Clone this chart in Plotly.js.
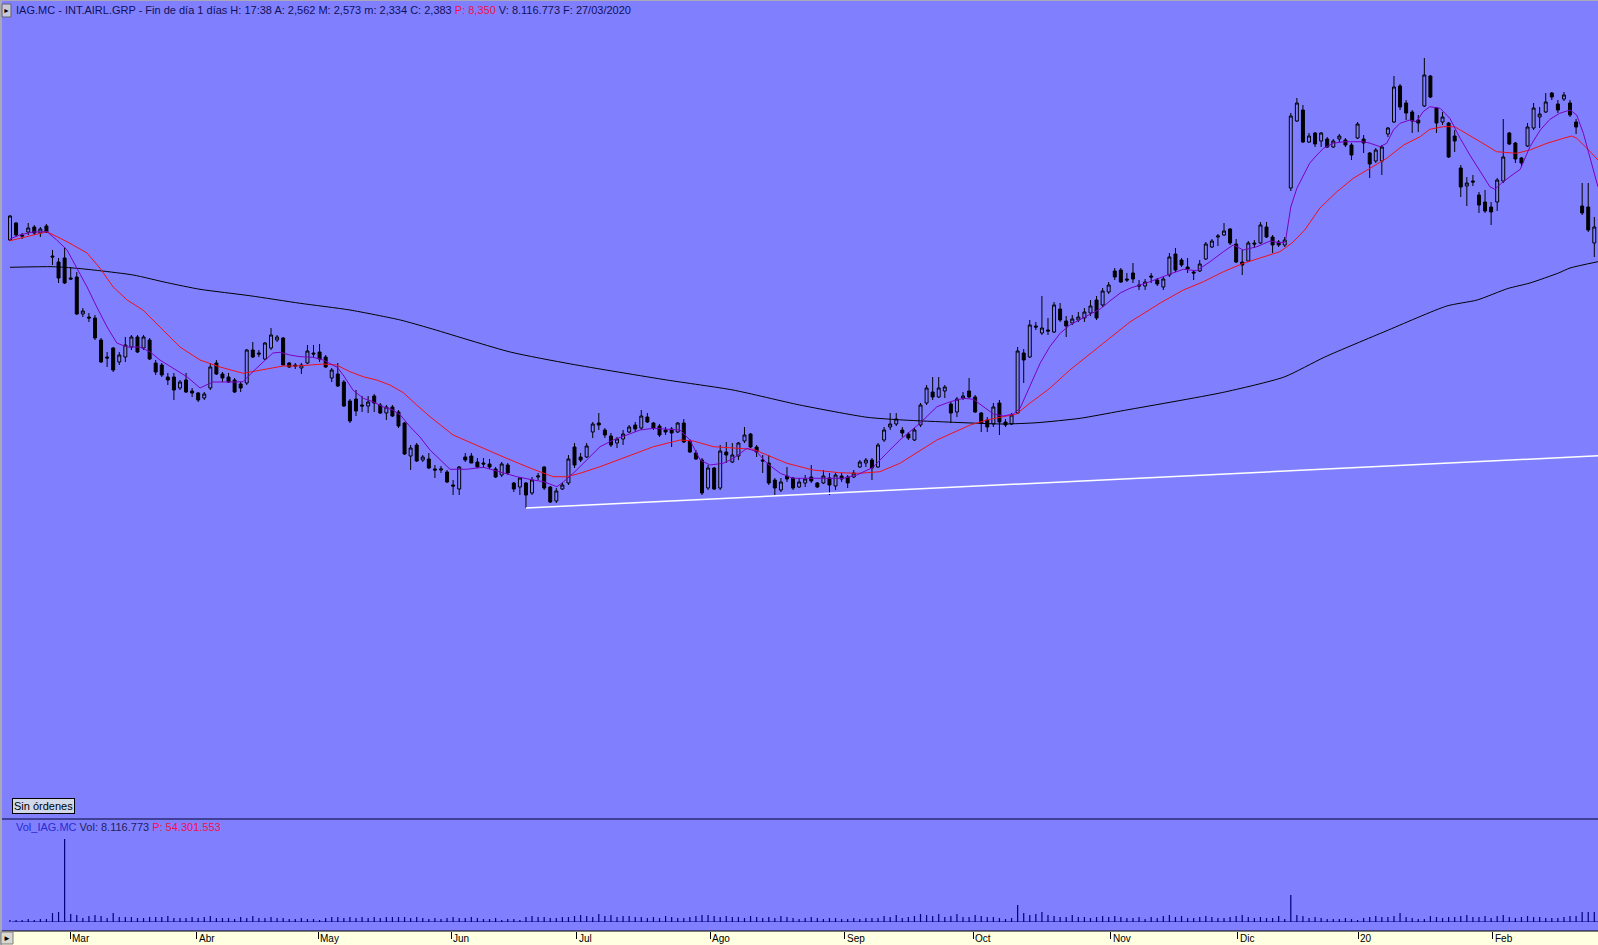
<!DOCTYPE html>
<html><head><meta charset="utf-8">
<script src="https://cdn.plot.ly/plotly-3.0.1.min.js"></script>
<style>html,body{margin:0;padding:0;background:#8080ff;overflow:hidden}#chart{width:1598px;height:945px}</style>
</head><body><div id="chart"></div>
<script>
// ---- Daily OHLC (IAG.MC), one value per trading session, chart order ----
const open = [
6.320,6.439,6.355,6.376,6.411,6.369,6.418,6.208,6.166,6.194,
6.054,6.061,5.802,5.781,5.774,5.620,5.501,5.564,5.466,5.501,
5.571,5.641,5.564,5.620,5.459,5.445,5.361,5.361,5.284,5.340,
5.263,5.249,5.214,5.284,5.459,5.382,5.361,5.340,5.312,5.319,
5.550,5.529,5.487,5.564,5.620,5.634,5.459,5.445,5.424,5.459,
5.529,5.536,5.501,5.354,5.382,5.326,5.193,5.207,5.165,5.158,
5.228,5.165,5.109,5.151,5.116,5.039,4.808,4.885,4.780,4.787,
4.717,4.710,4.696,4.605,4.577,4.801,4.808,4.766,4.759,4.752,
4.717,4.675,4.745,4.619,4.591,4.619,4.549,4.661,4.731,4.591,
4.493,4.577,4.619,4.871,4.801,4.801,4.976,5.039,4.990,4.948,
4.899,4.927,4.976,5.025,5.004,5.081,5.039,5.018,4.990,4.997,
4.976,5.039,4.913,4.829,4.780,4.584,4.724,4.584,4.836,4.766,
4.808,4.913,4.962,4.871,4.780,4.759,4.640,4.570,4.668,4.654,
4.591,4.619,4.661,4.619,4.619,4.654,4.598,4.668,4.661,4.661,
4.731,4.759,4.780,4.731,4.920,5.011,5.032,4.990,4.962,4.920,
5.025,5.179,5.256,5.221,5.263,5.172,5.116,5.214,5.263,5.221,
5.109,5.060,5.032,5.179,5.046,5.032,5.109,5.529,5.501,5.718,
5.669,5.690,5.676,5.837,5.753,5.739,5.760,5.774,5.809,5.900,
5.865,5.956,6.103,6.110,6.047,6.089,6.005,5.998,6.068,6.040,
5.991,6.075,6.222,6.180,6.131,6.096,6.103,6.187,6.271,6.341,
6.355,6.397,6.292,6.166,6.173,6.299,6.299,6.411,6.341,6.306,
6.285,6.684,7.153,7.230,7.006,7.069,7.013,7.027,6.971,7.027,
7.020,6.985,7.034,7.027,6.929,6.873,6.873,7.062,7.146,7.398,
7.279,7.216,7.160,7.258,7.468,7.244,7.146,7.139,7.048,6.824,
6.698,6.733,6.635,6.586,6.551,6.586,6.733,7.069,6.999,6.894,
6.978,7.104,7.181,7.216,7.349,7.272,7.307,7.279,7.146,6.558,
6.551,6.299,6.320];
const high = [
6.495,6.446,6.369,6.439,6.425,6.411,6.432,6.250,6.194,6.271,
6.131,6.096,5.844,5.809,5.795,5.634,5.536,5.571,5.536,5.641,
5.655,5.655,5.655,5.634,5.480,5.459,5.389,5.389,5.340,5.389,
5.284,5.256,5.256,5.459,5.480,5.396,5.389,5.354,5.326,5.557,
5.606,5.550,5.606,5.704,5.655,5.641,5.466,5.459,5.459,5.585,
5.585,5.592,5.515,5.424,5.459,5.340,5.207,5.270,5.228,5.228,
5.242,5.179,5.165,5.165,5.130,5.046,4.885,4.899,4.815,4.829,
4.745,4.738,4.710,4.640,4.738,4.829,4.829,4.794,4.794,4.787,
4.731,4.766,4.759,4.626,4.661,4.626,4.661,4.689,4.738,4.598,
4.584,4.619,4.815,4.899,4.829,4.899,5.046,5.109,5.004,4.969,
4.941,4.990,5.025,5.046,5.130,5.109,5.046,5.032,5.011,5.011,
5.046,5.067,4.927,4.850,4.794,4.745,4.731,4.885,4.906,4.899,
4.906,5.011,4.969,4.885,4.815,4.815,4.654,4.654,4.731,4.661,
4.654,4.675,4.745,4.626,4.710,4.689,4.689,4.689,4.675,4.710,
4.780,4.794,4.794,4.899,5.011,5.109,5.109,5.011,4.976,5.004,
5.179,5.305,5.361,5.361,5.305,5.186,5.221,5.256,5.354,5.235,
5.116,5.081,5.179,5.200,5.067,5.109,5.571,5.557,5.760,5.746,
5.928,5.774,5.886,5.879,5.788,5.795,5.816,5.844,5.900,5.928,
5.984,6.026,6.124,6.124,6.089,6.159,6.040,6.047,6.089,6.054,
6.061,6.229,6.264,6.194,6.194,6.110,6.180,6.306,6.327,6.362,
6.439,6.404,6.327,6.250,6.313,6.320,6.446,6.446,6.355,6.320,
6.341,7.209,7.314,7.265,7.069,7.076,7.076,7.041,7.027,7.062,
7.034,6.999,7.146,7.055,6.936,6.964,6.985,7.111,7.468,7.412,
7.300,7.230,7.195,7.594,7.475,7.251,7.216,7.146,7.090,6.845,
6.761,6.775,6.656,6.670,6.586,6.754,7.167,7.076,7.006,6.901,
7.139,7.279,7.251,7.349,7.356,7.300,7.356,7.300,7.167,6.719,
6.719,6.481,6.355];
const low = [
6.313,6.341,6.327,6.355,6.355,6.341,6.369,6.145,6.019,6.012,
6.040,5.795,5.781,5.746,5.620,5.459,5.431,5.396,5.445,5.466,
5.550,5.529,5.550,5.480,5.375,5.361,5.305,5.200,5.270,5.249,
5.221,5.186,5.200,5.270,5.375,5.326,5.319,5.249,5.256,5.305,
5.494,5.501,5.480,5.550,5.606,5.445,5.424,5.417,5.382,5.452,
5.494,5.466,5.424,5.326,5.291,5.151,5.039,5.088,5.116,5.109,
5.116,5.102,5.060,5.081,5.004,4.815,4.710,4.766,4.766,4.717,
4.654,4.689,4.619,4.535,4.535,4.766,4.759,4.724,4.724,4.717,
4.654,4.661,4.675,4.556,4.535,4.444,4.535,4.640,4.570,4.479,
4.479,4.570,4.605,4.724,4.766,4.794,4.934,4.990,4.934,4.871,
4.864,4.885,4.969,4.976,4.990,5.039,4.990,4.941,4.955,4.871,
4.969,4.899,4.829,4.780,4.535,4.570,4.570,4.570,4.759,4.759,
4.780,4.899,4.864,4.801,4.689,4.605,4.535,4.556,4.626,4.570,
4.584,4.591,4.619,4.584,4.612,4.535,4.570,4.626,4.584,4.654,
4.724,4.731,4.640,4.724,4.906,4.990,5.018,4.941,4.920,4.913,
5.011,5.165,5.200,5.214,5.214,5.039,5.081,5.200,5.214,5.109,
4.976,4.976,5.011,4.955,5.011,5.025,5.102,5.319,5.494,5.690,
5.655,5.655,5.669,5.746,5.641,5.725,5.746,5.746,5.788,5.760,
5.851,5.942,6.040,6.019,6.026,6.019,5.970,5.970,6.019,5.998,
5.970,6.061,6.096,6.131,6.089,6.040,6.096,6.180,6.264,6.278,
6.348,6.285,6.159,6.075,6.166,6.264,6.292,6.334,6.229,6.271,
6.271,6.663,7.146,6.999,6.999,6.971,6.971,6.964,6.964,7.006,
6.971,6.880,7.027,6.929,6.754,6.859,6.775,7.041,7.139,7.230,
7.160,7.069,7.076,7.251,7.314,7.069,7.125,6.894,6.936,6.621,
6.558,6.698,6.509,6.509,6.425,6.523,6.719,6.985,6.859,6.831,
6.971,7.090,7.104,7.209,7.300,7.209,7.293,7.181,7.062,6.495,
6.376,6.201,5.914];
const close = [
6.488,6.355,6.348,6.404,6.369,6.397,6.376,6.201,6.054,6.019,
6.047,5.802,5.823,5.774,5.634,5.466,5.494,5.410,5.515,5.585,
5.641,5.536,5.641,5.487,5.396,5.375,5.340,5.270,5.326,5.256,
5.249,5.200,5.242,5.431,5.382,5.354,5.326,5.256,5.284,5.550,
5.501,5.522,5.599,5.655,5.641,5.445,5.431,5.438,5.445,5.543,
5.522,5.487,5.431,5.410,5.298,5.158,5.053,5.123,5.158,5.186,
5.179,5.109,5.151,5.088,5.018,4.822,4.864,4.773,4.801,4.724,
4.710,4.717,4.626,4.598,4.731,4.780,4.759,4.731,4.752,4.731,
4.661,4.752,4.689,4.577,4.654,4.535,4.640,4.668,4.584,4.486,
4.563,4.605,4.787,4.745,4.780,4.878,5.032,5.025,4.955,4.885,
4.927,4.962,5.011,4.997,5.088,5.046,5.004,4.955,4.976,4.969,
5.039,4.906,4.836,4.787,4.549,4.724,4.577,4.843,4.815,4.815,
4.899,4.955,4.871,4.836,4.773,4.619,4.584,4.626,4.647,4.584,
4.626,4.647,4.633,4.591,4.668,4.605,4.675,4.647,4.619,4.689,
4.766,4.780,4.724,4.885,4.990,5.032,5.067,4.969,4.934,4.990,
5.165,5.284,5.221,5.284,5.291,5.109,5.207,5.228,5.221,5.116,
5.039,5.011,5.151,5.046,5.025,5.095,5.543,5.480,5.725,5.711,
5.704,5.683,5.865,5.760,5.718,5.767,5.781,5.816,5.858,5.774,
5.963,6.005,6.061,6.026,6.040,6.047,5.998,6.026,6.061,6.012,
6.047,6.201,6.110,6.145,6.117,6.089,6.152,6.292,6.313,6.348,
6.383,6.299,6.166,6.145,6.299,6.292,6.425,6.341,6.285,6.285,
6.320,7.188,7.279,7.006,7.048,6.992,7.069,6.971,7.013,7.048,
6.985,6.915,7.132,6.999,6.852,6.950,6.971,7.104,7.391,7.251,
7.209,7.153,7.139,7.475,7.321,7.139,7.181,6.901,7.013,6.691,
6.719,6.726,6.565,6.523,6.516,6.740,6.901,6.992,6.887,6.859,
7.111,7.244,7.202,7.286,7.321,7.230,7.335,7.195,7.111,6.509,
6.390,6.411,6.110];
// Volume (millions of shares)
const volume = [
2,2,2,3,2,3,3,9,10,83, 8,7,4,6,7,6,4,9,5,5, 5,4,4,5,5,5,6,4,4,4,
5,4,5,6,4,4,4,3,5,4, 6,4,4,5,4,4,3,3,4,3, 3,2,4,5,5,4,5,4,5,4,
5,4,5,5,5,5,4,5,4,3, 4,3,4,5,4,4,5,4,3,3, 4,2,3,3,2,5,6,5,5,4,
4,5,5,6,7,6,5,8,6,7, 5,6,6,5,5,4,5,4,6,5, 4,4,5,6,7,7,6,5,6,5,
5,4,6,5,4,5,4,6,5,4, 3,4,5,4,3,4,4,3,3,4, 3,4,4,4,6,5,7,4,5,6,
8,7,6,8,5,6,8,5,5,7, 6,5,5,4,3,4,17,9,7,8, 10,7,6,5,5,7,5,5,4,5,
6,5,6,5,4,4,5,3,5,4, 6,7,5,6,4,4,5,6,5,4, 4,5,6,7,5,4,5,4,4,6,
3,27,7,6,4,5,4,3,3,3, 4,3,2,4,5,6,5,5,6,9, 5,4,3,3,6,5,4,5,5,6,
7,5,5,6,4,6,7,5,4,5, 6,5,5,4,4,4,5,6,6,10, 10,10,9];

// Short moving average (purple): session position / price
const maFastX = [0,1.6,3.8,6.1,7.7,9.4,11.0,12.7,14.3,16.0,17.6,19.3,21.4,23.1,24.7,26.9,29.2,31.3,33.4,36.7,
38.4,40.0,41.7,43.3,44.5,46.1,47.8,49.9,51.6,52.7,53.9,54.9,56.5,58.2,59.8,61.4,63.1,64.3,65.9,67.5,
69.2,72.5,75.2,78.0,80.7,83.5,86.2,87.9,90.1,91.2,92.8,95.0,97.2,99.4,101.6,103.8,106.0,108.2,110.4,112.0,
113.7,115.3,117.5,119.2,121.4,123.0,124.7,126.9,129.0,131.8,134.5,137.3,139.5,142.2,144.4,146.6,149.9,152.7,154.9,157.1,
158.7,160.3,162.0,163.6,165.3,166.4,168.0,169.7,171.3,173.0,174.6,176.3,177.9,179.6,181.2,182.9,184.5,187.8,191.1,193.3,
195.5,197.7,199.9,201.5,203.2,205.4,207.6,209.2,210.1,211.0,212.0,213.0,214.1,215.3,216.4,218.0,219.7,221.3,223.0,224.1,
225.7,226.8,227.9,229.0,230.6,231.7,232.8,233.9,235.6,237.2,238.9,240.5,242.2,243.8,244.6,245.7,247.1,248.8,250.4,252.1,
253.7,255.3,257.0,258.1,259.2,260.3,261.6];
const maFastY = [6.327,6.355,6.376,6.378,6.320,6.250,6.124,5.991,5.851,5.711,5.599,5.571,5.571,5.536,5.480,5.424,5.361,5.284,5.326,5.326,
5.328,5.398,5.468,5.529,5.534,5.515,5.503,5.499,5.480,5.457,5.429,5.375,5.270,5.212,5.188,5.153,5.130,5.095,5.013,4.943,
4.850,4.715,4.715,4.729,4.698,4.663,4.640,4.628,4.593,4.628,4.687,4.780,4.873,4.920,4.955,4.990,5.002,4.995,4.990,4.920,
4.780,4.745,4.757,4.792,4.862,4.838,4.757,4.687,4.652,4.652,4.652,4.652,4.675,4.729,4.827,4.920,5.037,5.153,5.188,5.212,
5.205,5.153,5.102,5.088,5.102,5.142,5.293,5.457,5.573,5.667,5.725,5.765,5.802,5.837,5.893,5.949,5.982,6.028,6.082,6.115,
6.105,6.168,6.238,6.285,6.250,6.273,6.313,6.301,6.306,6.551,6.682,6.763,6.857,6.915,6.962,6.997,7.008,7.008,7.008,6.997,
6.973,6.997,7.090,7.137,7.160,7.148,7.218,7.253,7.242,7.172,7.032,6.915,6.798,6.693,6.675,6.717,6.763,6.815,6.973,7.090,
7.165,7.207,7.230,7.195,7.067,6.903,6.693];
// Medium moving average (red)
const maMidX = [0,6.1,9.4,12.7,14.8,17.0,19.3,21.9,24.7,28.0,31.3,34.6,38.4,40.6,42.8,45.0,47.2,49.4,51.6,53.8,
56.0,58.2,60.4,62.6,64.8,67.0,69.2,73.0,77.4,81.8,86.2,89.5,91.7,93.9,97.2,101.6,106.0,110.4,112.6,115.9,
119.2,122.5,124.7,128.0,132.3,136.7,140.0,143.3,146.6,152.7,158.2,160.9,163.6,165.8,168.0,171.3,174.6,176.3,179.6,184.5,
189.5,193.3,196.6,199.9,203.2,206.5,209.2,211.2,213.3,215.8,218.6,221.3,224.1,226.8,229.6,232.3,233.9,236.1,238.0,239.9,
242.2,244.9,248.2,250.4,253.2,255.9,257.3,258.1,259.8,261.6];
const maMidY = [6.315,6.378,6.308,6.229,6.124,5.991,5.900,5.830,5.711,5.571,5.480,5.431,5.387,5.405,5.422,5.438,5.438,5.445,5.452,5.445,
5.398,5.363,5.340,5.305,5.251,5.165,5.083,4.955,4.873,4.792,4.715,4.663,4.663,4.687,4.733,4.803,4.873,4.920,4.913,4.873,
4.862,4.855,4.815,4.757,4.710,4.691,4.687,4.698,4.757,4.920,5.025,5.060,5.083,5.102,5.177,5.282,5.410,5.468,5.585,5.746,
5.879,5.970,6.028,6.098,6.157,6.203,6.238,6.299,6.390,6.544,6.658,6.752,6.822,6.892,6.985,7.043,7.095,7.113,7.113,7.067,
7.008,6.938,6.927,6.950,6.997,7.032,7.048,7.032,6.962,6.880];
// Long moving average (black)
const maLongX = [0,7.1,11.0,14.8,20.3,25.9,31.3,39.5,47.8,56.0,64.3,69.2,82.4,92.4,108.2,119.1,130.1,141.2,147.1,155.4,
163.6,169.2,176.3,183.0,199.8,209.9,216.6,226.7,236.7,241.7,246.8,250.4,255.1,257.0,261.6];
const maLongY = [6.129,6.133,6.122,6.105,6.075,6.021,5.975,5.930,5.877,5.830,5.760,5.702,5.536,5.452,5.340,5.270,5.165,5.079,5.060,5.044,
5.032,5.041,5.072,5.123,5.253,5.361,5.501,5.683,5.858,5.900,5.981,6.019,6.089,6.124,6.168];
// Support trend line (white)
const trendX = [85, 263];
const trendY = [4.444, 4.812];

// Month labels and their boundary positions on the session axis
const monthLabels = ['Mar','Abr','May','Jun','Jul','Ago','Sep','Oct','Nov','Dic','20','Feb'];
const monthPos = [9.9,30.8,50.8,72.7,93.4,115.4,137.5,158.7,181.3,202.3,222.1,244.3];

const headerText = 'IAG.MC - INT.AIRL.GRP - Fin de día 1 días H: 17:38 A: 2,562 M: 2,573 m: 2,334 C: 2,383 ' +
  '<span style="color:#f0104a">P: 8,350</span> V: 8.116.773 F: 27/03/2020';
const volText = '<span style="color:#2a2ad0">Vol_IAG.MC</span> Vol: 8.116.773 <span style="color:#f0104a">P: 54.301.553</span>';

// ---- drawing ----
const W = 1598, H = 945;
const px = x => x / W, py = y => 1 - y / H;
const idx = open.map((_, i) => i);
const FONT = 'Liberation Sans, Arial, sans-serif';

const traces = [
  {type:'bar', x: idx, y: volume, xaxis:'x', yaxis:'y2', width:0.2,
   marker:{color:'#000080', line:{width:0}}, hoverinfo:'skip', showlegend:false},
  {type:'scatter', mode:'lines', x: maLongX, y: maLongY, line:{color:'#000000', width:1, shape:'spline', smoothing:0.6},
   hoverinfo:'skip', showlegend:false},
  {type:'scatter', mode:'lines', x: trendX, y: trendY, line:{color:'#ffffff', width:1.5},
   hoverinfo:'skip', showlegend:false},
  {type:'candlestick', x: idx, open: open, high: high, low: low, close: close,
   increasing:{line:{color:'#000000', width:1}, fillcolor:'rgba(0,0,0,0)'},
   decreasing:{line:{color:'#000000', width:1}, fillcolor:'#000000'},
   whiskerwidth:0, hoverinfo:'skip', showlegend:false},
  {type:'scatter', mode:'lines', x: maMidX, y: maMidY, line:{color:'#f01018', width:1},
   hoverinfo:'skip', showlegend:false},
  {type:'scatter', mode:'lines', x: maFastX, y: maFastY, line:{color:'#7a00c0', width:1},
   hoverinfo:'skip', showlegend:false}
];

const annotations = [
  {xref:'paper', yref:'paper', x:px(14), y:py(10.5), xanchor:'left', yanchor:'middle', showarrow:false,
   text: headerText, font:{family:FONT, size:11, color:'#10105a'}},
  {xref:'paper', yref:'paper', x:px(14), y:py(827), xanchor:'left', yanchor:'middle', showarrow:false,
   text: volText, font:{family:FONT, size:11, color:'#202060'}},
  {xref:'paper', yref:'paper', x:px(12), y:py(797.5), xanchor:'left', yanchor:'top', showarrow:false,
   text:'Sin órdenes', font:{family:FONT, size:11, color:'#000000'},
   bgcolor:'#d0d8ea', bordercolor:'#000000', borderwidth:1, borderpad:1},
  {xref:'paper', yref:'paper', x:px(6), y:py(10.5), xanchor:'center', yanchor:'middle', showarrow:false,
   text:'►', font:{family:FONT, size:7, color:'#000000'}},
  {xref:'paper', yref:'paper', x:px(7), y:py(938.5), xanchor:'center', yanchor:'middle', showarrow:false,
   text:'►', font:{family:FONT, size:8, color:'#000000'}}
];
monthLabels.forEach((m, k) => annotations.push({
  xref:'x', yref:'paper', x: monthPos[k], y: py(945), xanchor:'left', yanchor:'bottom', xshift:1,
  borderpad:0, showarrow:false, text: m, font:{family:FONT, size:10, color:'#000000'}
}));

const shapes = [
  {type:'rect', xref:'paper', yref:'paper', x0:0, x1:1, y0:0, y1:py(931), fillcolor:'#ffffe1', line:{width:0}, layer:'below'},
  {type:'line', xref:'paper', yref:'paper', x0:0, x1:1, y0:py(931), y1:py(931), line:{color:'#000000', width:1}},
  {type:'line', xref:'paper', yref:'paper', x0:0, x1:1, y0:py(819), y1:py(819), line:{color:'#000030', width:1}},
  {type:'line', xref:'paper', yref:'y2', x0:px(12), x1:1, y0:0, y1:0, line:{color:'#000080', width:1}},
  {type:'rect', xref:'paper', yref:'paper', x0:0, x1:px(2), y0:0, y1:1, fillcolor:'#a8a8b8', line:{width:0}},
  {type:'line', xref:'paper', yref:'paper', x0:0, x1:1, y0:py(0.5), y1:py(0.5), line:{color:'#a8a8b8', width:1}},
  {type:'rect', xref:'paper', yref:'paper', x0:px(2), x1:px(11), y0:py(17), y1:py(4), fillcolor:'#c8c8d8', line:{color:'#606070', width:1}},
  {type:'rect', xref:'paper', yref:'paper', x0:px(1), x1:px(13), y0:py(944), y1:py(932), fillcolor:'#d8d8d0', line:{color:'#808080', width:1}}
];

const layout = {
  width: W, height: H, margin:{l:0, r:0, t:0, b:0, pad:0},
  paper_bgcolor:'#8080ff', plot_bgcolor:'rgba(0,0,0,0)',
  showlegend:false, boxgap:0.3,
  xaxis:{range:[-1.648, 261.61], showgrid:false, zeroline:false, showline:false,
         rangeslider:{visible:false}, anchor:'free', position: py(931),
         tickmode:'array', tickvals: monthPos, ticks:'outside', ticklen:7, tickwidth:1, tickcolor:'#000000',
         showticklabels:false, fixedrange:true},
  yaxis:{domain:[py(816), py(20)], range:[2.288, 7.86], showgrid:false, zeroline:false, showline:false,
         showticklabels:false, ticks:'', fixedrange:true},
  yaxis2:{domain:[py(922), py(826)], range:[0, 96], showgrid:false, zeroline:false, showline:false,
          showticklabels:false, ticks:'', fixedrange:true},
  shapes: shapes, annotations: annotations
};

Plotly.newPlot('chart', traces, layout, {staticPlot:true, displayModeBar:false});
</script>
</body></html>
